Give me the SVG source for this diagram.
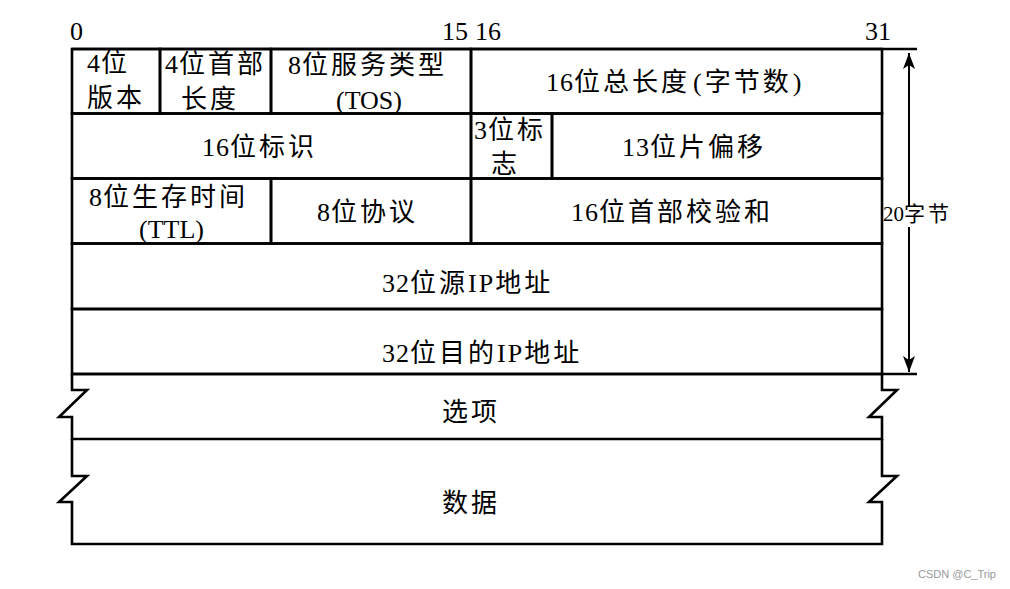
<svg xmlns="http://www.w3.org/2000/svg" width="1010" height="589" viewBox="0 0 1010 589">
<style>
.t{font-family:"Liberation Serif","Noto Sans CJK SC",serif;font-size:26px;fill:#000;letter-spacing:3px}
.n{letter-spacing:1px}
.ip{letter-spacing:2px}
.d{font-family:"Liberation Serif",serif;font-size:26px;fill:#000}
.s{font-family:"Liberation Serif","Noto Sans CJK SC",serif;font-size:21px;fill:#000;letter-spacing:3px}
.b{fill:none;stroke:#000;stroke-width:2.6;stroke-linejoin:miter}
.a{fill:none;stroke:#000;stroke-width:2}
.w{font-family:"Liberation Sans","Noto Sans",sans-serif;font-size:11px;fill:#999}
</style>
<defs>
<marker id="ah" markerUnits="userSpaceOnUse" markerWidth="18" markerHeight="14" refX="16" refY="6" orient="auto">
<path d="M0,0 L16,6 L0,12 L4,6 z" fill="#000"/>
</marker>
</defs>
<rect width="1010" height="589" fill="#fff"/>

<g id="bit-labels">
<text class="d" x="70" y="40">0</text>
<text class="d" x="442" y="40">15</text>
<text class="d" x="475" y="40">16</text>
<text class="d" x="865" y="40">31</text>
</g>

<g id="version">
<rect class="b" x="72" y="49" width="88" height="64.5"/>
<text class="t" x="87" y="72"><tspan class="n">4</tspan>位</text>
<text class="t" x="87" y="107">版本</text>
</g>
<g id="header-length">
<rect class="b" x="160" y="49" width="111" height="64.5"/>
<text class="t" x="165" y="73"><tspan class="n">4</tspan>位首部</text>
<text class="t" x="181" y="108">长度</text>
</g>
<g id="tos">
<rect class="b" x="271" y="49" width="200" height="64.5"/>
<text class="t" x="288" y="74"><tspan class="n">8</tspan>位服务类型</text>
<text class="t" x="336" y="109"><tspan style="letter-spacing:0">(TOS)</tspan></text>
</g>
<g id="total-length">
<rect class="b" x="471" y="49" width="411" height="64.5"/>
<text class="t" x="546" y="91"><tspan class="n">16</tspan>位总长度<tspan dx="3">(</tspan>字节数<tspan dx="1">)</tspan></text>
</g>

<g id="identification">
<rect class="b" x="72" y="113.5" width="399" height="65"/>
<text class="t" x="202" y="156"><tspan class="n">16</tspan>位标识</text>
</g>
<g id="flags">
<rect class="b" x="471" y="113.5" width="81" height="65"/>
<text class="t" x="474" y="139"><tspan class="n">3</tspan>位标</text>
<text class="t" x="491" y="173">志</text>
</g>
<g id="fragment-offset">
<rect class="b" x="552" y="113.5" width="330" height="65"/>
<text class="t" x="622" y="156"><tspan class="n">13</tspan>位片偏移</text>
</g>

<g id="ttl">
<rect class="b" x="72" y="178.5" width="199" height="65"/>
<text class="t" x="89" y="206"><tspan class="n">8</tspan>位生存时间</text>
<text class="t" x="139" y="238"><tspan style="letter-spacing:0">(TTL)</tspan></text>
</g>
<g id="protocol">
<rect class="b" x="271" y="178.5" width="200" height="65"/>
<text class="t" x="317" y="221"><tspan class="n">8</tspan>位协议</text>
</g>
<g id="checksum">
<rect class="b" x="471" y="178.5" width="411" height="65"/>
<text class="t" x="571" y="221"><tspan class="n">16</tspan>位首部校验和</text>
</g>

<g id="source-ip">
<rect class="b" x="72" y="243.5" width="810" height="65.5"/>
<text class="t" x="382" y="292"><tspan class="n">32</tspan>位源<tspan class="ip">IP</tspan>地址</text>
</g>
<g id="dest-ip">
<rect class="b" x="72" y="309" width="810" height="65"/>
<text class="t" x="382" y="362"><tspan class="n">32</tspan>位目的<tspan class="ip">IP</tspan>地址</text>
</g>

<g id="options">
<path class="b" d="M72 374 V390 H87 L59 417 H72 V439 H882 V417 H869 L897 390 H882 V374"/>
<text class="t" x="442" y="421">选项</text>
</g>
<g id="data">
<path class="b" d="M72 439 V476 H87 L59 502 H72 V544 H882 V502 H869 L897 476 H882 V439"/>
<text class="t" x="442" y="512">数据</text>
</g>

<g id="connectors">
<path class="b" d="M72 49 H917"/>
<path class="b" d="M72 374 H917"/>
<path class="a" d="M909 207 V53" marker-end="url(#ah)"/>
<path class="a" d="M909 227 V372" marker-end="url(#ah)"/>
</g>
<g id="size-label">
<text class="s" x="883" y="221"><tspan style="letter-spacing:0">20</tspan>字节</text>
</g>

<text class="w" x="918" y="578">CSDN @C_Trip</text>
</svg>
